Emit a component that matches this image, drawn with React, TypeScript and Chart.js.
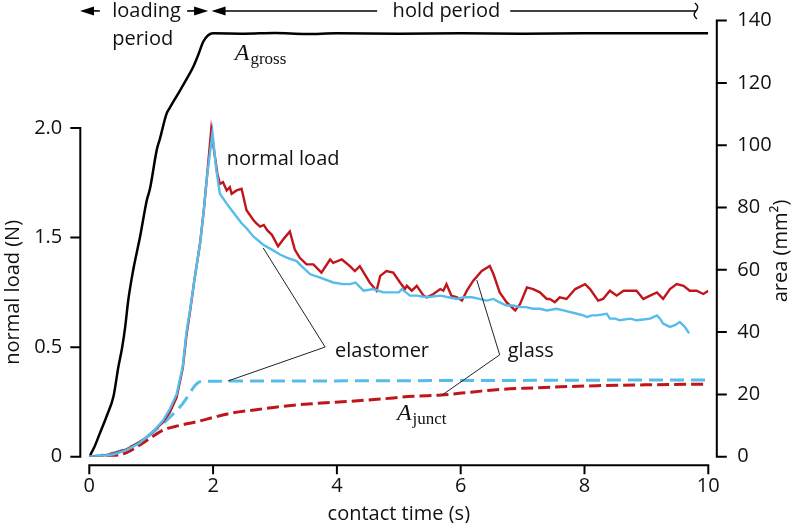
import React, { useEffect, useRef } from "react";
import { Chart, registerables } from "chart.js";

Chart.register(...registerables);

// ---------- data ----------
const xTickValues = [0, 2, 4, 6, 8, 10];
const leftTickValues = [0, 2 / 3, 4 / 3, 2];
const leftTickLabels = ["0", "0.5", "1.5", "2.0"];
const rightTickValues = [0, 20, 40, 60, 80, 100, 120, 140];

// normal load, glass (red, solid)
const glassLoadT = [0, 0.2, 0.4, 0.6, 0.8, 0.93, 1.05, 1.19, 1.3, 1.41, 1.51, 1.57, 1.63, 1.7, 1.79, 1.85, 1.9, 1.97, 2.02, 2.07, 2.11, 2.16, 2.22, 2.27, 2.3, 2.38, 2.46, 2.54, 2.65, 2.7, 2.76, 2.82, 2.87, 2.95, 3.05, 3.15, 3.24, 3.32, 3.4, 3.51, 3.62, 3.75, 3.89, 3.94, 4.08, 4.21, 4.29, 4.37, 4.53, 4.64, 4.7, 4.8, 4.91, 5.02, 5.1, 5.13, 5.21, 5.29, 5.4, 5.45, 5.56, 5.67, 5.72, 5.77, 5.85, 5.94, 6.02, 6.1, 6.2, 6.34, 6.47, 6.53, 6.63, 6.74, 6.88, 6.96, 7.07, 7.17, 7.28, 7.39, 7.44, 7.52, 7.6, 7.71, 7.85, 8.01, 8.09, 8.22, 8.3, 8.41, 8.52, 8.63, 8.74, 8.84, 8.95, 9.06, 9.17, 9.27, 9.38, 9.49, 9.6, 9.7, 9.81, 9.92, 10.0];
const glassLoadN = [0, 0.005, 0.02, 0.045, 0.085, 0.12, 0.16, 0.21, 0.27, 0.36, 0.54, 0.74, 0.89, 1.08, 1.3, 1.5, 1.7, 1.99, 1.85, 1.72, 1.66, 1.67, 1.62, 1.64, 1.6, 1.62, 1.63, 1.5, 1.44, 1.42, 1.4, 1.41, 1.38, 1.35, 1.28, 1.33, 1.37, 1.26, 1.21, 1.17, 1.17, 1.12, 1.2, 1.18, 1.2, 1.16, 1.13, 1.16, 1.06, 1.01, 1.1, 1.13, 1.12, 1.06, 1.02, 1.04, 1.01, 1.04, 0.98, 0.97, 0.99, 1.02, 1.01, 1.05, 0.98, 0.97, 0.95, 1.01, 1.07, 1.13, 1.16, 1.11, 1.0, 0.94, 0.89, 0.93, 1.03, 1.02, 1.0, 0.96, 0.96, 0.94, 0.97, 0.96, 1.02, 1.05, 1.02, 0.95, 0.96, 1.01, 0.98, 1.01, 1.01, 1.01, 0.96, 0.98, 1.0, 0.96, 1.02, 1.05, 1.04, 1.01, 1.01, 0.99, 1.01];

// normal load, elastomer (blue, solid)
const elastLoadT = [0, 0.2, 0.4, 0.6, 0.8, 0.93, 1.05, 1.19, 1.3, 1.41, 1.51, 1.57, 1.63, 1.7, 1.79, 1.85, 1.9, 1.99, 2.05, 2.11, 2.22, 2.3, 2.38, 2.46, 2.54, 2.65, 2.81, 2.95, 3.08, 3.2, 3.35, 3.4, 3.57, 3.73, 3.94, 4.1, 4.21, 4.3, 4.43, 4.59, 4.75, 4.86, 5.0, 5.05, 5.18, 5.3, 5.45, 5.67, 5.8, 5.94, 6.05, 6.18, 6.3, 6.42, 6.53, 6.62, 6.74, 6.85, 6.96, 7.05, 7.17, 7.28, 7.39, 7.55, 7.66, 7.77, 7.88, 7.98, 8.04, 8.12, 8.2, 8.36, 8.41, 8.5, 8.57, 8.74, 8.84, 8.95, 9.06, 9.17, 9.22, 9.27, 9.38, 9.46, 9.54, 9.62, 9.69];
const elastLoadN = [0, 0.005, 0.015, 0.04, 0.08, 0.12, 0.16, 0.22, 0.29, 0.38, 0.55, 0.76, 0.9, 1.08, 1.3, 1.5, 1.7, 1.97, 1.75, 1.6, 1.54, 1.5, 1.46, 1.42, 1.39, 1.34, 1.29, 1.26, 1.23, 1.21, 1.19, 1.17, 1.11, 1.09, 1.06, 1.05, 1.05, 1.06, 1.01, 1.02, 1.0, 1.0, 1.0, 1.02, 0.98, 0.98, 0.97, 0.98, 0.97, 0.96, 0.97, 0.97, 0.96, 0.95, 0.96, 0.94, 0.92, 0.92, 0.91, 0.91, 0.9, 0.9, 0.89, 0.9, 0.89, 0.88, 0.87, 0.86, 0.85, 0.86, 0.86, 0.87, 0.84, 0.84, 0.83, 0.84, 0.83, 0.835, 0.84, 0.86, 0.84, 0.81, 0.79, 0.8, 0.82, 0.79, 0.75];

// gross contact area (black)
const grossT = [0, 0.08, 0.17, 0.28, 0.39, 0.47, 0.53, 0.58, 0.63, 0.71, 0.82, 0.93, 0.98, 1.09, 1.14, 1.25, 1.3, 1.47, 1.58, 1.68, 1.76, 1.84, 1.92, 2.0, 2.5, 3.0, 3.5, 4.0, 5.0, 6.0, 7.0, 8.0, 9.0, 10.0];
const grossA = [0, 3, 7.5, 13, 19.3, 28.9, 35, 41.7, 50.3, 60, 70.6, 82.4, 86, 98.5, 102, 110.2, 112, 117.7, 121.5, 125.2, 129, 133.2, 135.3, 135.9, 135.8, 136.0, 135.7, 135.9, 135.8, 135.9, 135.8, 135.9, 135.9, 135.9];

// junction area, elastomer (blue, dashed)
const elastJunctT = [0, 0.3, 0.6, 0.9, 1.2, 1.5, 1.76, 1.85, 3.0, 5.0, 7.0, 9.0, 10.0];
const elastJunctA = [0, 0.8, 2.6, 5.8, 10.8, 16.8, 23.8, 24.2, 24.3, 24.4, 24.5, 24.6, 24.6];

// junction area, glass (red, dashed)
const glassJunctT = [0, 0.2, 0.4, 0.6, 0.77, 1.0, 1.2, 1.45, 1.73, 2.0, 2.27, 2.7, 3.08, 3.6, 4.16, 4.7, 5.23, 5.69, 6.2, 6.63, 7.2, 7.71, 8.2, 8.79, 9.4, 10.0];
const glassJunctA = [0, 0.1, 0.3, 1.3, 3.2, 6.2, 8.6, 10.0, 11.2, 12.6, 13.9, 15.1, 16.1, 17.0, 17.7, 18.5, 19.4, 19.8, 20.8, 21.6, 22.1, 22.5, 22.8, 23.0, 23.2, 23.3];

// annotations (in data units: seconds / mm²)
const textNotes = [
  { text: "loading", t: 0.37, a: 141.3 },
  { text: "period", t: 0.37, a: 132.3 },
  { text: "hold period", t: 4.9, a: 141.3 },
  { text: "normal load", t: 2.22, a: 93.6 },
  { text: "elastomer", t: 3.97, a: 32.0 },
  { text: "glass", t: 6.76, a: 32.0 },
];
const elastomerLeader = [[2.81, 67.0], [3.81, 35.2], [2.24, 24.3]];
const glassLeader = [[6.26, 56.7], [6.63, 32.7], [5.7, 19.8]];

const RED = "#c0161b";
const BLUE = "#56bdea";
const SANS = "'Open Sans', 'Noto Sans', sans-serif";
const SERIF = "'Liberation Serif', 'DejaVu Serif', serif";

const zip = (t: number[], v: number[]) => t.map((x, i) => ({ x, y: v[i] }));

const noPad = (s: any) => {
  s.paddingTop = 0;
  s.paddingBottom = 0;
  s.paddingLeft = 0;
  s.paddingRight = 0;
};

const decor = {
  id: "decor",
  afterDraw(chart: any) {
    const ctx: CanvasRenderingContext2D = chart.ctx;
    const xs = chart.scales.x;
    const yl = chart.scales.yL;
    const yr = chart.scales.yR;
    const ca = chart.chartArea;
    const X = (t: number) => xs.getPixelForValue(t);
    const YR = (a: number) => yr.getPixelForValue(a);
    ctx.save();

    // axes
    ctx.strokeStyle = "#000";
    ctx.lineWidth = 2;
    const lx = ca.left - 9;
    const rx = ca.right + 8.5;
    const by = ca.bottom + 8.5;
    ctx.beginPath();
    ctx.moveTo(lx, yl.getPixelForValue(0) + 1);
    ctx.lineTo(lx, yl.getPixelForValue(2) - 1);
    leftTickValues.forEach((v) => {
      const y = yl.getPixelForValue(v);
      ctx.moveTo(lx - 10, y);
      ctx.lineTo(lx + 1, y);
    });
    ctx.moveTo(rx, yr.getPixelForValue(0) + 1);
    ctx.lineTo(rx, yr.getPixelForValue(140) - 1);
    rightTickValues.forEach((v) => {
      const y = yr.getPixelForValue(v);
      ctx.moveTo(rx - 1, y);
      ctx.lineTo(rx + 10, y);
    });
    ctx.moveTo(xs.getPixelForValue(0) - 1, by);
    ctx.lineTo(xs.getPixelForValue(10) + 1, by);
    xTickValues.forEach((v) => {
      const x = xs.getPixelForValue(v);
      ctx.moveTo(x, by - 1);
      ctx.lineTo(x, by + 9);
    });
    ctx.stroke();

    // axis titles
    ctx.fillStyle = "#111";
    ctx.font = `20px ${SANS}`;
    ctx.textAlign = "center";
    ctx.textBaseline = "alphabetic";
    ctx.fillText("contact time (s)", (ca.left + ca.right) / 2, 520);
    ctx.save();
    ctx.translate(19, (yl.getPixelForValue(0) + yl.getPixelForValue(2)) / 2);
    ctx.rotate(-Math.PI / 2);
    ctx.fillText("normal load (N)", 0, 0);
    ctx.restore();
    ctx.save();
    ctx.translate(787, 251);
    ctx.rotate(-Math.PI / 2);
    ctx.fillText("area (mm²)", 0, 0);
    ctx.restore();

    // text notes
    ctx.textAlign = "left";
    textNotes.forEach((n) => ctx.fillText(n.text, X(n.t), YR(n.a)));

    // A_gross, A_junct
    const drawA = (t: number, a: number, sub: string) => {
      const x = X(t);
      const y = YR(a);
      ctx.font = `italic 24px ${SERIF}`;
      ctx.fillText("A", x, y);
      const w = ctx.measureText("A").width;
      ctx.font = `17px ${SERIF}`;
      ctx.fillText(sub, x + w + 1, y + 4);
    };
    drawA(2.35, 127.3, "gross");
    drawA(4.97, 11.8, "junct");

    // leader lines
    ctx.lineWidth = 1;
    ctx.strokeStyle = "#222";
    [elastomerLeader, glassLeader].forEach((pts) => {
      ctx.beginPath();
      pts.forEach(([t, a], i) => (i ? ctx.lineTo(X(t), YR(a)) : ctx.moveTo(X(t), YR(a))));
      ctx.stroke();
    });

    // period arrows
    const ay = YR(143.1);
    ctx.strokeStyle = "#000";
    ctx.fillStyle = "#000";
    ctx.lineWidth = 1.6;
    const arrow = (from: number, tip: number) => {
      const x0 = X(from);
      const x1 = X(tip);
      const dir = x1 > x0 ? 1 : -1;
      ctx.beginPath();
      ctx.moveTo(x0, ay);
      ctx.lineTo(x1 - dir * 8, ay);
      ctx.stroke();
      ctx.beginPath();
      ctx.moveTo(x1, ay);
      ctx.lineTo(x1 - dir * 14, ay - 4.5);
      ctx.lineTo(x1 - dir * 14, ay + 4.5);
      ctx.closePath();
      ctx.fill();
    };
    arrow(0.17, -0.15);
    arrow(1.58, 1.92);
    arrow(4.65, 1.975);
    ctx.lineWidth = 1.4;
    ctx.beginPath();
    ctx.moveTo(X(6.8), ay);
    const ex = X(9.8);
    ctx.lineTo(ex, ay);
    ctx.stroke();
    // squiggle
    ctx.beginPath();
    ctx.moveTo(ex - 1, ay - 8);
    ctx.quadraticCurveTo(ex + 4, ay - 4, ex, ay);
    ctx.quadraticCurveTo(ex - 4, ay + 4, ex + 1, ay + 8);
    ctx.stroke();

    ctx.restore();
  },
};

export default function App() {
  const ref = useRef<HTMLCanvasElement | null>(null);
  useEffect(() => {
    if (!ref.current) return;
    const tickFont = { family: SANS, size: 20 };
    const chart = new Chart(ref.current, {
      type: "line",
      data: {
        datasets: [
          { label: "load elastomer", data: zip(elastLoadT, elastLoadN), yAxisID: "yL", borderColor: BLUE, borderWidth: 2.4, pointRadius: 0, tension: 0 },
          { label: "load glass", data: zip(glassLoadT, glassLoadN), yAxisID: "yL", borderColor: RED, borderWidth: 2.4, pointRadius: 0, tension: 0 },
          { label: "A_junct elastomer", data: zip(elastJunctT, elastJunctA), yAxisID: "yR", borderColor: BLUE, borderWidth: 3, borderDash: [14, 7], pointRadius: 0, cubicInterpolationMode: "monotone" },
          { label: "A_junct glass", data: zip(glassJunctT, glassJunctA), yAxisID: "yR", borderColor: RED, borderWidth: 3, borderDash: [12, 5], pointRadius: 0, cubicInterpolationMode: "monotone" },
          { label: "A_gross", data: zip(grossT, grossA), yAxisID: "yR", borderColor: "#000", borderWidth: 2.5, pointRadius: 0, cubicInterpolationMode: "monotone" },
        ],
      },
      options: {
        animation: false,
        responsive: false,
        maintainAspectRatio: false,
        layout: { padding: { top: 20.6, left: 0, right: 0, bottom: 0 } },
        plugins: { legend: { display: false }, tooltip: { enabled: false } },
        scales: {
          x: {
            type: "linear",
            min: 0,
            max: 10,
            position: "bottom",
            grid: { display: false, drawTicks: false },
            border: { display: false },
            ticks: { stepSize: 2, font: tickFont, color: "#111", padding: 18, maxRotation: 0, autoSkip: false },
            afterFit: (s: any) => { s.height = 66.3; noPad(s); },
          },
          yL: {
            type: "linear",
            position: "left",
            min: 0,
            max: 2.6535,
            grid: { display: false, drawTicks: false },
            border: { display: false },
            afterBuildTicks: (s: any) => { s.ticks = leftTickValues.map((v) => ({ value: v })); },
            ticks: { font: tickFont, color: "#111", padding: 27, autoSkip: false, callback: (_v: any, i: number) => leftTickLabels[i] },
            afterFit: (s: any) => { s.width = 89.3; noPad(s); },
          },
          yR: {
            type: "linear",
            position: "right",
            min: 0,
            max: 140,
            grid: { display: false, drawTicks: false },
            border: { display: false },
            afterBuildTicks: (s: any) => { s.ticks = rightTickValues.map((v) => ({ value: v })); },
            ticks: { font: tickFont, color: "#111", padding: 29, autoSkip: false },
            afterFit: (s: any) => { s.width = 84.7; noPad(s); },
          },
        },
      },
      plugins: [decor],
    } as any);
    return () => chart.destroy();
  }, []);
  return (
    <div style={{ position: "fixed", left: 0, top: 0, width: 793, height: 523, background: "#fff" }}>
      <canvas ref={ref} width={793} height={523} style={{ width: 793, height: 523, display: "block" }} />
    </div>
  );
}
